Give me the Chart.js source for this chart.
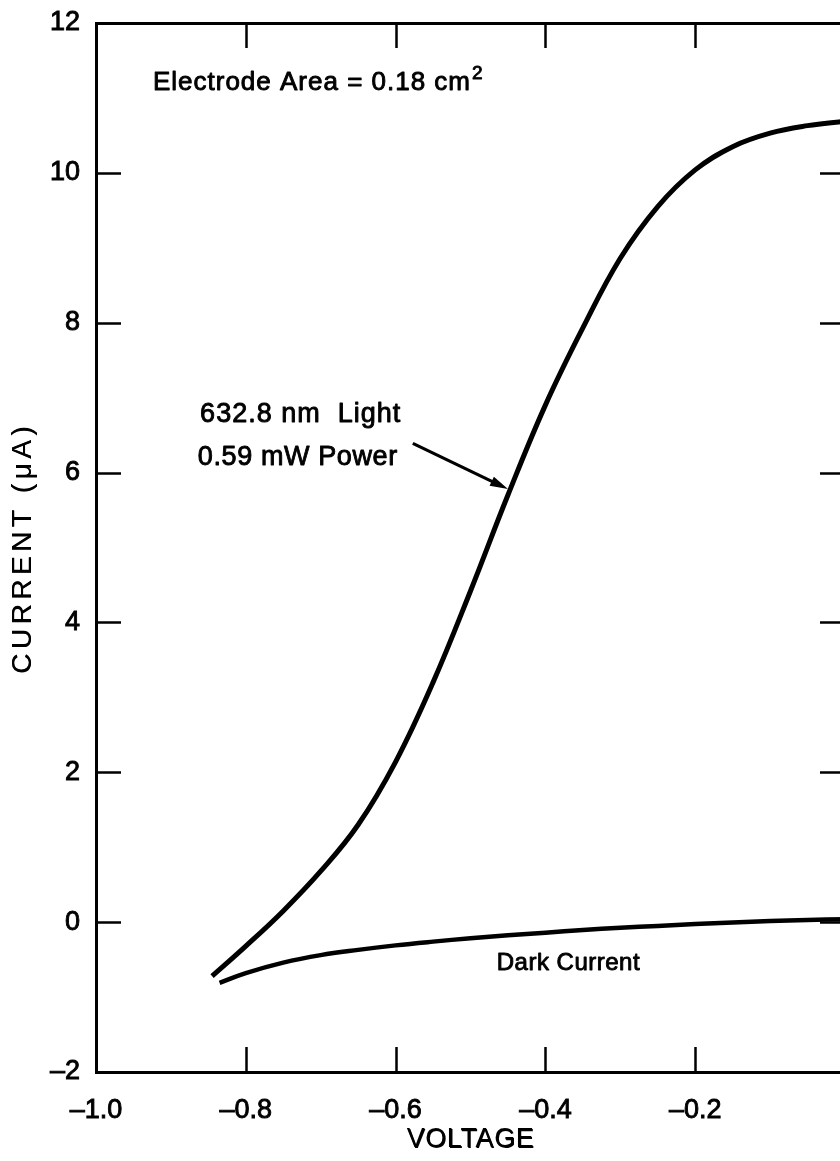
<!DOCTYPE html>
<html>
<head>
<meta charset="utf-8">
<title>Photocurrent vs. voltage</title>
<script src="https://cdn.jsdelivr.net/npm/chart.js@4.4.1/dist/chart.umd.min.js"></script>
<style>
  html, body { margin: 0; padding: 0; background: #fff; overflow: hidden; }
  #frame { position: relative; width: 840px; height: 1161px; overflow: hidden; background: #fff; }
  #frame canvas { display: block; }
</style>
</head>
<body>
<div id="frame"><canvas id="chart" width="860" height="1161"></canvas></div>
<script>
// Current under 632.8 nm illumination (µA) against electrode voltage (V)
const lightVoltage = [-0.845, -0.80, -0.75, -0.70, -0.65, -0.60, -0.55, -0.50, -0.45,
                      -0.40, -0.35, -0.30, -0.25, -0.20, -0.15, -0.10, -0.05, 0.0];
const lightCurrent = [-0.72, -0.32, 0.15, 0.68, 1.30, 2.14, 3.20, 4.42, 5.70,
                      6.90, 7.93, 8.86, 9.55, 10.04, 10.35, 10.53, 10.63, 10.69];

// Dark current (µA) against electrode voltage (V)
const darkVoltage = [-0.835, -0.80, -0.75, -0.70, -0.65, -0.60, -0.55, -0.50, -0.45,
                     -0.40, -0.35, -0.30, -0.25, -0.20, -0.15, -0.10, -0.05, 0.0];
const darkCurrent = [-0.81, -0.68, -0.54, -0.44, -0.37, -0.31, -0.26, -0.215, -0.175,
                     -0.14, -0.105, -0.075, -0.05, -0.025, -0.005, 0.015, 0.03, 0.04];

// Axis ticks
const voltageTicks = [-1.0, -0.8, -0.6, -0.4, -0.2, 0.0];
const currentTicks = [-2, 0, 2, 4, 6, 8, 10, 12];

const FONT = '"Liberation Sans", Arial, Helvetica, sans-serif';
const INK = '#000';
const WEIGHT = 0.9; // extra outline that thickens the glyph strokes

const toPoints = (xs, ys) => xs.map((x, i) => ({ x, y: ys[i] }));
const dash = s => s.replace('-', '\u2013');

// Text and arrow placed in data coordinates
const notes = [
  { text: 'Electrode Area = 0.18 cm', sup: '2', v: -0.924, i: 11.10, size: 26, spacing: 1 },
  { text: '632.8 nm  Light', v: -0.861, i: 6.67, size: 27, spacing: 1 },
  { text: '0.59 mW Power', v: -0.864, i: 6.10, size: 27, spacing: 0.6 },
  { text: 'Dark Current', v: -0.465, i: -0.64, size: 24, spacing: 0.5 }
];
const pointer = { from: { v: -0.577, i: 6.39 }, to: { v: -0.450, i: 5.78 } };

function inkText(ctx, text, x, y) {
  ctx.fillText(text, x, y);
  ctx.strokeText(text, x, y);
}

const frameAndNotes = {
  id: 'frameAndNotes',
  afterDraw(chart) {
    const { ctx, chartArea: a } = chart;
    const xs = chart.scales.x, ys = chart.scales.y;
    const tick = 25;
    ctx.save();
    ctx.strokeStyle = INK;
    ctx.lineWidth = 2.5;
    ctx.lineCap = 'butt';
    // inward tick marks on all four sides
    currentTicks.slice(1, -1).forEach(val => {
      const py = Math.round(ys.getPixelForValue(val)) + 0.5;
      ctx.beginPath();
      ctx.moveTo(a.left, py); ctx.lineTo(a.left + tick, py);
      ctx.moveTo(a.right - tick, py); ctx.lineTo(a.right, py);
      ctx.stroke();
    });
    voltageTicks.slice(1, -1).forEach(val => {
      const px = Math.round(xs.getPixelForValue(val)) + 0.5;
      ctx.beginPath();
      ctx.moveTo(px, a.top); ctx.lineTo(px, a.top + tick);
      ctx.moveTo(px, a.bottom - tick); ctx.lineTo(px, a.bottom);
      ctx.stroke();
    });

    // labels
    ctx.fillStyle = INK;
    ctx.lineWidth = WEIGHT;
    ctx.lineJoin = 'round';
    ctx.textBaseline = 'alphabetic';
    ctx.textAlign = 'left';
    notes.forEach(n => {
      const px = xs.getPixelForValue(n.v);
      const py = ys.getPixelForValue(n.i);
      ctx.font = `${n.size}px ${FONT}`;
      ctx.letterSpacing = `${n.spacing}px`;
      inkText(ctx, n.text, px, py);
      if (n.sup) {
        const w = ctx.measureText(n.text).width;
        ctx.font = `${Math.round(n.size * 0.72)}px ${FONT}`;
        inkText(ctx, n.sup, px + w + 1, py - 11);
      }
    });
    ctx.letterSpacing = '0px';

    // arrow pointing at the illuminated curve
    const x0 = xs.getPixelForValue(pointer.from.v), y0 = ys.getPixelForValue(pointer.from.i);
    const x1 = xs.getPixelForValue(pointer.to.v), y1 = ys.getPixelForValue(pointer.to.i);
    const ang = Math.atan2(y1 - y0, x1 - x0);
    const headLen = 18, headHalf = 5;
    ctx.lineWidth = 3.2;
    ctx.beginPath();
    ctx.moveTo(x0, y0);
    ctx.lineTo(x1 - Math.cos(ang) * headLen * 0.8, y1 - Math.sin(ang) * headLen * 0.8);
    ctx.stroke();
    ctx.beginPath();
    ctx.moveTo(x1, y1);
    ctx.lineTo(x1 - Math.cos(ang) * headLen - Math.sin(ang) * headHalf,
               y1 - Math.sin(ang) * headLen + Math.cos(ang) * headHalf);
    ctx.lineTo(x1 - Math.cos(ang) * headLen + Math.sin(ang) * headHalf,
               y1 - Math.sin(ang) * headLen - Math.cos(ang) * headHalf);
    ctx.closePath();
    ctx.fill();
    ctx.restore();
  }
};

// axis titles: optional letter spacing and a slightly heavier stroke
function styledTitle(scale, spacing) {
  if (scale.$styled) return;
  const draw = scale.drawTitle.bind(scale);
  scale.drawTitle = function () {
    const c = this.ctx;
    c.save();
    c.letterSpacing = spacing || '0px';
    c.shadowColor = INK;
    c.shadowBlur = 0;
    c.shadowOffsetX = 0.8;
    c.shadowOffsetY = 0.4;
    draw();
    c.restore();
  };
  scale.$styled = true;
}

// fixed box size for a scale, with no extra room reserved for overhanging labels
function fixBox(prop, size, spacing) {
  return s => {
    s[prop] = size;
    s.paddingTop = 0; s.paddingBottom = 0; s.paddingLeft = 0; s.paddingRight = 0;
    if (spacing !== undefined) styledTitle(s, spacing);
  };
}

Chart.defaults.font.family = FONT;
Chart.defaults.color = INK;

new Chart(document.getElementById('chart'), {
  type: 'line',
  data: {
    datasets: [
      {
        label: '632.8 nm Light, 0.59 mW',
        data: toPoints(lightVoltage, lightCurrent),
        borderColor: INK,
        borderWidth: 5,
        pointRadius: 0,
        tension: 0.4,
        fill: false
      },
      {
        label: 'Dark Current',
        data: toPoints(darkVoltage, darkCurrent),
        borderColor: INK,
        borderWidth: 4.5,
        pointRadius: 0,
        tension: 0.4,
        fill: false
      }
    ]
  },
  options: {
    responsive: false,
    animation: false,
    devicePixelRatio: 1,
    layout: { padding: 0 },
    plugins: { legend: { display: false }, tooltip: { enabled: false } },
    scales: {
      x: {
        type: 'linear',
        position: 'bottom',
        min: voltageTicks[0],
        max: voltageTicks[voltageTicks.length - 1],
        afterBuildTicks: s => { s.ticks = voltageTicks.map(value => ({ value })); },
        ticks: {
          padding: 22,
          font: { size: 27 },
          color: INK,
          textStrokeColor: INK,
          textStrokeWidth: WEIGHT,
          maxRotation: 0,
          callback: v => (Math.abs(v) < 1e-9 ? '' : dash(Number(v).toFixed(1)))
        },
        grid: { display: false, drawTicks: false },
        border: { display: true, color: INK, width: 3 },
        title: { display: true, text: 'VOLTAGE', font: { size: 27 }, color: INK, padding: { top: 0, bottom: 5 } },
        afterFit: fixBox('height', 89, '0.6px')
      },
      y: {
        type: 'linear',
        position: 'left',
        min: currentTicks[0],
        max: currentTicks[currentTicks.length - 1],
        afterBuildTicks: s => { s.ticks = currentTicks.map(value => ({ value })); },
        ticks: {
          padding: 16,
          font: { size: 27 },
          color: INK,
          textStrokeColor: INK,
          textStrokeWidth: WEIGHT,
          callback: v => dash(String(v))
        },
        grid: { display: false, drawTicks: false },
        border: { display: true, color: INK, width: 3 },
        title: { display: true, text: 'CURRENT (\u03bcA)', font: { size: 28 }, color: INK, padding: { top: 6, bottom: 0 } },
        afterFit: fixBox('width', 96, '4.5px')
      },
      xTop: {
        type: 'linear',
        position: 'top',
        display: true,
        ticks: { display: false },
        grid: { display: false, drawTicks: false },
        border: { display: true, color: INK, width: 3 },
        afterFit: fixBox('height', 23)
      },
      yRight: {
        type: 'linear',
        position: 'right',
        display: true,
        ticks: { display: false },
        grid: { display: false, drawTicks: false },
        border: { display: true, color: INK, width: 3 },
        afterFit: fixBox('width', 15)
      }
    }
  },
  plugins: [frameAndNotes]
});
</script>
</body>
</html>
